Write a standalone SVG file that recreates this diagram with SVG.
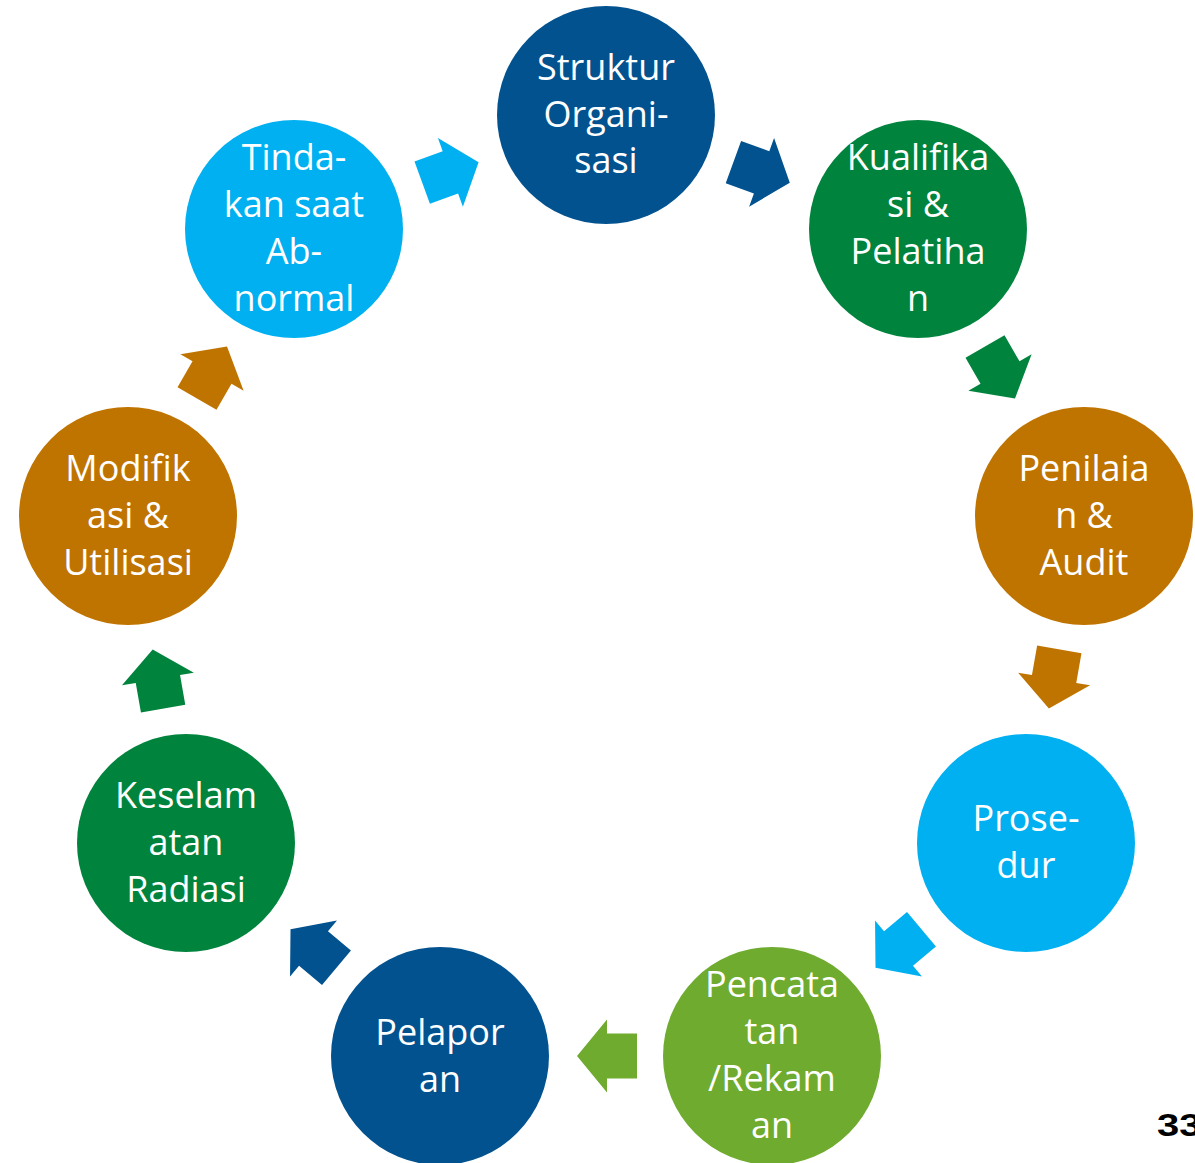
<svg xmlns="http://www.w3.org/2000/svg" width="1195" height="1163" viewBox="0 0 1195 1163">
<style>
.lbl{font-family:"Open Sans","Noto Sans",sans-serif;font-size:36px;fill:#ffffff;text-anchor:middle}
.db{fill:#02528F}.gr{fill:#00843D}.or{fill:#C07400}.lb{fill:#00B0F0}.lg{fill:#6FAB2E}
.pg{font-family:"Liberation Sans",Arial,sans-serif;font-size:32px;font-weight:bold;fill:#000000}
</style>
<defs>
<polygon id="arr" points="-30,-22.5 0,-22.5 0,-36.5 30,0 0,36.5 0,22.5 -30,22.5"/>
</defs>
<rect width="1195" height="1163" fill="#ffffff"/>
<g id="connectors">
<use href="#arr" class="db" transform="translate(761.6,172.4) rotate(20)"/>
<use href="#arr" class="gr" transform="translate(1000,372.5) rotate(60)"/>
<use href="#arr" class="or" transform="translate(1054.1,679) rotate(100)"/>
<use href="#arr" class="lb" transform="translate(898.5,948.5) rotate(140)"/>
<use href="#arr" class="lg" transform="translate(607,1056) rotate(180)"/>
<use href="#arr" class="db" transform="translate(313.5,948.5) rotate(220)"/>
<use href="#arr" class="gr" transform="translate(157.9,679) rotate(260)"/>
<use href="#arr" class="or" transform="translate(212,372.5) rotate(300)"/>
<use href="#arr" class="lb" transform="translate(450.4,172.4) rotate(340)"/>
</g>
<g id="n1"><circle cx="606" cy="115" r="109" class="db"/>
<text class="lbl" x="606" y="80">Struktur</text><text class="lbl" x="606" y="126.5">Organi-</text><text class="lbl" x="606" y="173">sasi</text></g>
<g id="n2"><circle cx="918" cy="229" r="109" class="gr"/>
<text class="lbl" x="918" y="170">Kualifika</text><text class="lbl" x="918" y="217">si &amp;</text><text class="lbl" x="918" y="264">Pelatiha</text><text class="lbl" x="918" y="311">n</text></g>
<g id="n3"><circle cx="1084" cy="516" r="109" class="or"/>
<text class="lbl" x="1084" y="480.5">Penilaia</text><text class="lbl" x="1084" y="527.5">n &amp;</text><text class="lbl" x="1084" y="574.5">Audit</text></g>
<g id="n4"><circle cx="1026" cy="843" r="109" class="lb"/>
<text class="lbl" x="1026" y="831">Prose-</text><text class="lbl" x="1026" y="878">dur</text></g>
<g id="n5"><circle cx="772" cy="1056" r="109" class="lg"/>
<text class="lbl" x="772" y="997">Pencata</text><text class="lbl" x="772" y="1044">tan</text><text class="lbl" x="772" y="1091">/Rekam</text><text class="lbl" x="772" y="1138">an</text></g>
<g id="n6"><circle cx="440" cy="1056" r="109" class="db"/>
<text class="lbl" x="440" y="1044.5">Pelapor</text><text class="lbl" x="440" y="1091.5">an</text></g>
<g id="n7"><circle cx="186" cy="843" r="109" class="gr"/>
<text class="lbl" x="186" y="807.5">Keselam</text><text class="lbl" x="186" y="854.5">atan</text><text class="lbl" x="186" y="901.5">Radiasi</text></g>
<g id="n8"><circle cx="128" cy="516" r="109" class="or"/>
<text class="lbl" x="128" y="480.5">Modifik</text><text class="lbl" x="128" y="527.5">asi &amp;</text><text class="lbl" x="128" y="574.5">Utilisasi</text></g>
<g id="n9"><circle cx="294" cy="229" r="109" class="lb"/>
<text class="lbl" x="294" y="170">Tinda-</text><text class="lbl" x="294" y="217">kan saat</text><text class="lbl" x="294" y="264">Ab-</text><text class="lbl" x="294" y="311">normal</text></g>
<text class="pg" transform="translate(1157,1136) scale(1.25,1)">33</text>
</svg>
